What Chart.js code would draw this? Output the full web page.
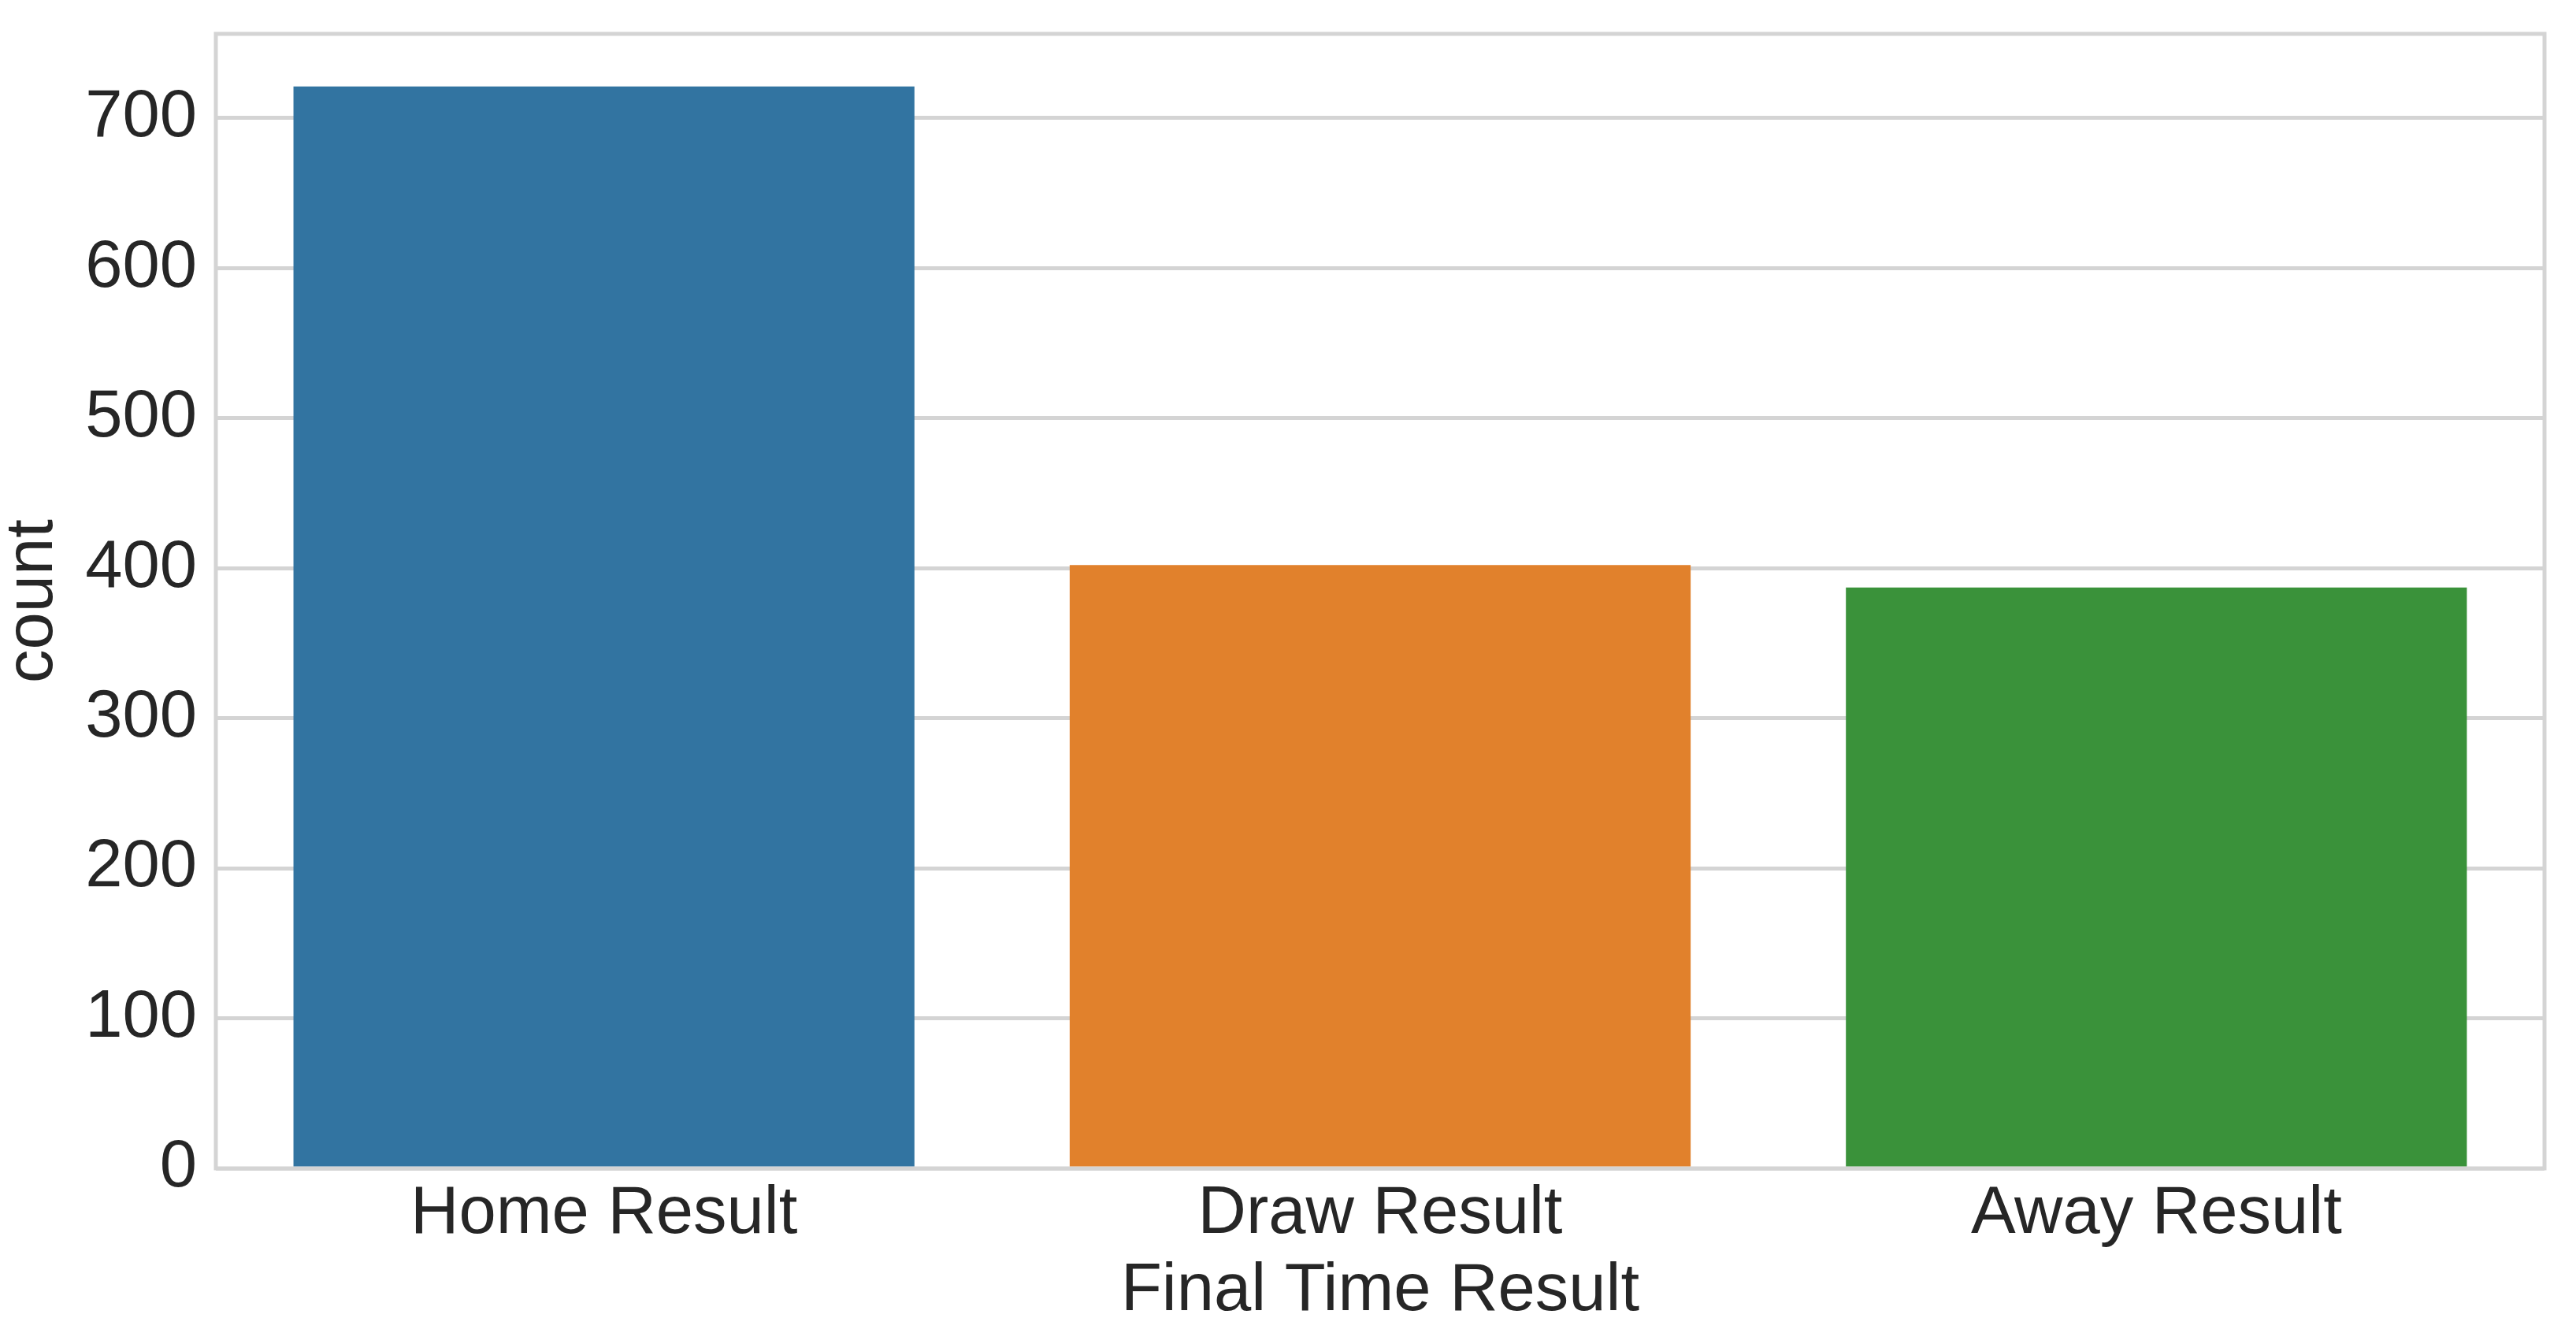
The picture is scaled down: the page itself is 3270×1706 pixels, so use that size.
<!DOCTYPE html>
<html>
<head>
<meta charset="utf-8">
<script src="https://cdn.jsdelivr.net/npm/chart.js@4/dist/chart.umd.min.js"></script>
<style>
  html, body { margin: 0; padding: 0; background: #ffffff; }
  canvas { display: block; }
</style>
</head>
<body>
<canvas id="myChart" width="3270" height="1706"></canvas>
<script>
// data
const categories = ["Home Result", "Draw Result", "Away Result"];
const counts = [721, 402, 387];
const barColors = ["#3274a1", "#e1812c", "#3a923a"];
const yTicks = [0, 100, 200, 300, 400, 500, 600, 700];
const yMax = 756;

const textColor = "#262626";
const gridColor = "#d4d4d4";
const fontFamily = "'Liberation Sans', Arial, sans-serif";
const fontSize = 85;

// light grey box round the plot area, like seaborn whitegrid
const frame = {
  id: "frame",
  beforeDatasetsDraw(chart) {
    const { ctx, chartArea } = chart;
    ctx.save();
    ctx.strokeStyle = gridColor;
    ctx.lineWidth = 5;
    ctx.strokeRect(chartArea.left, chartArea.top, chartArea.right - chartArea.left, chartArea.bottom - chartArea.top);
    ctx.restore();
  }
};

const data = {
  labels: categories,
  datasets: [
    {
      label: "count",
      data: counts,
      backgroundColor: barColors,
      borderWidth: 0,
      barPercentage: 0.8,
      categoryPercentage: 1.0,
    },
  ],
};

const config = {
  type: "bar",
  data: data,
  plugins: [frame],
  options: {
    responsive: false,
    animation: false,
    devicePixelRatio: 1,
    layout: {
      padding: { top: 43, right: 40, bottom: 0, left: 0 },
    },
    plugins: {
      legend: { display: false },
      tooltip: { enabled: false },
    },
    scales: {
      x: {
        grid: { display: false },
        border: { display: false },
        ticks: {
          color: textColor,
          padding: 8,
          font: { family: fontFamily, size: fontSize, lineHeight: 1 },
        },
        title: {
          display: true,
          text: "Final Time Result",
          color: textColor,
          padding: { top: 0, bottom: 24 },
          font: { family: fontFamily, size: fontSize, lineHeight: 1 },
        },
        afterFit(scale) {
          scale.height = 223;
          scale.paddingLeft = 0;
          scale.paddingRight = 0;
        },
      },
      y: {
        min: 0,
        max: yMax,
        afterBuildTicks(scale) {
          scale.ticks = yTicks.map(v => ({ value: v }));
        },
        grid: {
          color: gridColor,
          lineWidth: 5,
          drawTicks: false,
        },
        border: { display: false },
        ticks: {
          color: textColor,
          padding: 24,
          font: { family: fontFamily, size: fontSize, lineHeight: 1 },
        },
        title: {
          display: true,
          text: "count",
          color: textColor,
          padding: { top: 0, bottom: 0 },
          font: { family: fontFamily, size: fontSize, lineHeight: 1 },
        },
        afterFit(scale) {
          scale.width = 274;
          scale.paddingTop = 0;
          scale.paddingBottom = 0;
        },
      },
    },
  },
};

const ctx = document.getElementById("myChart").getContext("2d");
new Chart(ctx, config);
</script>
</body>
</html>
